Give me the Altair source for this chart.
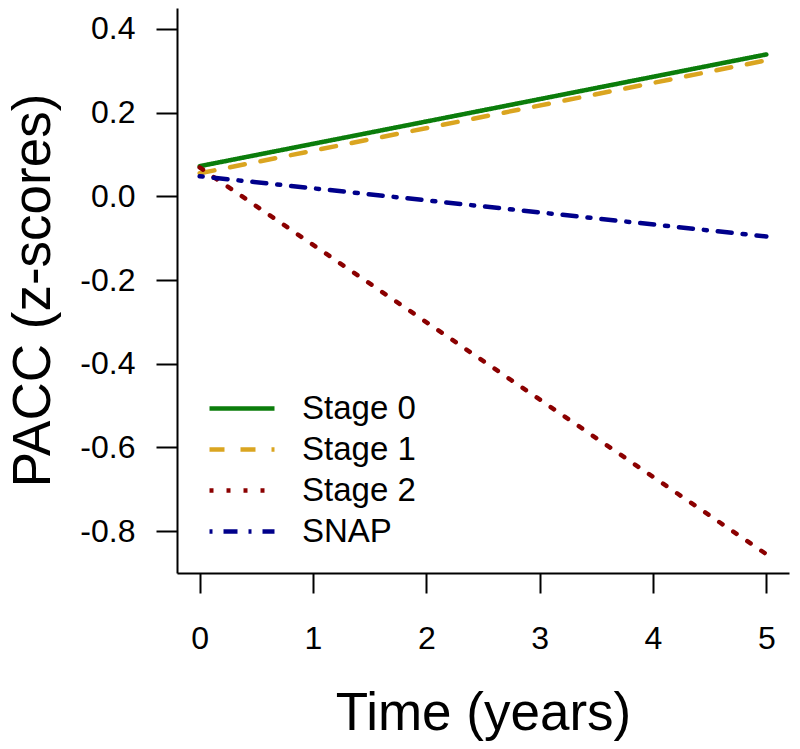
import altair as alt
import pandas as pd

# data
series = ["Stage 0", "Stage 1", "Stage 2", "SNAP"]
time_points = [0, 5]
start_values = [0.072, 0.055, 0.069, 0.048]
end_values = [0.339, 0.325, -0.855, -0.096]
colors = ["#0b7d0b", "#DAA520", "#8B0000", "#00008B"]
dashes = [[1, 0], [15, 16], [4, 13], [3, 11, 14, 11]]
x_ticks = [0, 1, 2, 3, 4, 5]
y_ticks = [-0.8, -0.6, -0.4, -0.2, 0.0, 0.2, 0.4]

rows = []
for s, a, b in zip(series, start_values, end_values):
    rows.append({"series": s, "time": time_points[0], "value": a})
    rows.append({"series": s, "time": time_points[1], "value": b})
df = pd.DataFrame(rows)

FONT = "Liberation Sans"
label_expr = "(datum.value < 0 ? '-' : '') + format(abs(datum.value), '.1f')"

chart = alt.Chart(df).mark_line(strokeWidth=4.5, strokeCap="round").encode(
    x=alt.X("time:Q",
            scale=alt.Scale(domain=[-0.2, 5.2], nice=False, zero=False),
            axis=alt.Axis(values=x_ticks, title="Time (years)", format="d",
                          titleY=156, titleBaseline="alphabetic")),
    y=alt.Y("value:Q",
            scale=alt.Scale(domain=[-0.9, 0.45], nice=False, zero=False),
            axis=alt.Axis(values=y_ticks, title="PACC (z-scores)", labelExpr=label_expr,
                          titleX=-144, titleY=282, titleBaseline="middle")),
    color=alt.Color("series:N", scale=alt.Scale(domain=series, range=colors),
                    legend=alt.Legend(title=None)),
    strokeDash=alt.StrokeDash("series:N", scale=alt.Scale(domain=series, range=dashes),
                              legend=alt.Legend(title=None)),
    detail="series:N",
).properties(
    width=612,
    height=565,
    autosize=alt.AutoSizeParams(type="none"),
    padding={"left": 169, "top": 0, "right": 3, "bottom": 168},
).configure_view(
    stroke=None
).configure_axis(
    grid=False,
    domainColor="black",
    domainWidth=2,
    tickColor="black",
    tickWidth=2,
    labelFont=FONT,
    labelFontSize=32,
    labelColor="black",
    titleFont=FONT,
    titleFontSize=53,
    titleFontWeight="normal",
    titleColor="black",
).configure_axisX(
    tickSize=20,
    labelPadding=30,
    labelFlush=False,
).configure_axisY(
    tickSize=21,
    labelPadding=21,
).configure_legend(
    orient="none",
    legendX=30,
    legendY=380,
    symbolType="stroke",
    symbolStrokeWidth=4.5,
    symbolSize=4225,
    labelFont=FONT,
    labelFontSize=33,
    labelColor="black",
    labelOffset=25,
    rowPadding=0,
    clipHeight=41,
)

chart.save("out.html", embed_options={"renderer": "svg", "actions": False})
